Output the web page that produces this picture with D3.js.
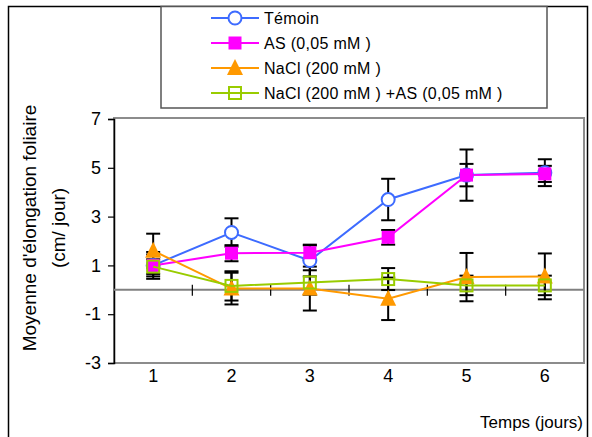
<!DOCTYPE html>
<html lang="fr">
	<head>
		<meta charset="utf-8">
		<title>Elongation foliaire</title>
		<script src="https://d3js.org/d3.v7.min.js"></script>
		<style type="text/css">
			body { margin: 0; background: #fff; }
			svg { display: block; }
			text { font-family: "Liberation Sans", Arial, sans-serif; fill: #000; }
		</style>
	</head>
	<body>
		<div id="chart"></div>
		<script type="text/javascript">

			// Données
			var days = [1, 2, 3, 4, 5, 6];
			var seriesNames = ["Témoin", "AS (0,05 mM )", "NaCl (200 mM )", "NaCl (200 mM ) +AS (0,05 mM )"];
			var temoin     = [1.0, 2.35, 1.2, 3.7, 4.7, 4.8];
			var temoinErr  = [0.45, 0.58, 0.65, 0.85, 1.05, 0.55];
			var as         = [1.0, 1.5, 1.52, 2.15, 4.7, 4.75];
			var asErr      = [0.55, 0.33, 0.3, 0.3, 0.46, 0.33];
			var nacl       = [1.6, 0.05, 0.05, -0.37, 0.52, 0.55];
			var naclErr    = [0.7, 0.65, 0.9, 0.87, 0.99, 0.94];
			var naclAs     = [0.95, 0.16, 0.3, 0.44, 0.18, 0.18];
			var naclAsErr  = [0.3, 0.6, 0.5, 0.45, 0.4, 0.4];
			var yTicks = [-3, -1, 1, 3, 5, 7];

			var colors = ["#3D6BFF", "#FF00FF", "#FF9900", "#99CC00"];
			var symbols = ["circle", "square", "triangle", "squareOpen"];

			var series = [
				{ name: seriesNames[0], values: temoin, err: temoinErr },
				{ name: seriesNames[1], values: as, err: asErr },
				{ name: seriesNames[2], values: nacl, err: naclErr },
				{ name: seriesNames[3], values: naclAs, err: naclAsErr }
			];
			series.forEach(function(s, i) {
				s.color = colors[i];
				s.symbol = symbols[i];
				s.points = days.map(function(d, j) {
					return { day: d, v: s.values[j], e: s.err[j] };
				});
			});

			var w = 592;
			var h = 437;
			var plot = { left: 114, right: 584, top: 119, bottom: 363 };

			var svg = d3.select("#chart")
						.append("svg")
						.attr("width", w)
						.attr("height", h);

			var xScale = d3.scaleBand()
							.domain(days)
							.range([plot.left, plot.right]);

			var yScale = d3.scaleLinear()
							.domain([-3, 7])
							.range([plot.bottom, plot.top]);

			function cx(d) { return xScale(d) + xScale.bandwidth() / 2; }

			// cadre extérieur
			svg.append("rect")
				.attr("x", 8.5).attr("y", 6.5)
				.attr("width", 579).attr("height", 450)
				.attr("fill", "none")
				.attr("stroke", "#000")
				.attr("stroke-width", 1.5);

			// zone de tracé (bordure grise)
			svg.append("rect")
				.attr("x", plot.left).attr("y", plot.top - 1)
				.attr("width", plot.right - plot.left)
				.attr("height", plot.bottom - plot.top + 1)
				.attr("fill", "#fff")
				.attr("stroke", "#8c8c8c")
				.attr("stroke-width", 2);

			// axe Y
			var yAxis = d3.axisLeft(yScale)
							.tickValues(yTicks)
							.tickSize(6)
							.tickPadding(7)
							.tickFormat(function(d) { return String(d); });

			var gy = svg.append("g")
						.attr("transform", "translate(" + plot.left + ",0)")
						.call(yAxis);
			gy.select(".domain").attr("stroke", "#000").attr("stroke-width", 1.5);
			gy.selectAll(".tick line").attr("stroke", "#000").attr("stroke-width", 1.2);
			gy.selectAll(".tick text")
				.attr("font-size", "18px")
				.attr("font-family", "Liberation Sans, Arial, sans-serif");

			// ligne du zéro avec graduations entre catégories
			svg.append("line")
				.attr("x1", plot.left).attr("x2", plot.right)
				.attr("y1", yScale(0)).attr("y2", yScale(0))
				.attr("stroke", "#808080")
				.attr("stroke-width", 2);

			svg.selectAll(".xtick")
				.data(days.slice(1))
				.enter()
				.append("line")
				.attr("class", "xtick")
				.attr("x1", function(d) { return xScale(d); })
				.attr("x2", function(d) { return xScale(d); })
				.attr("y1", yScale(0) - 5)
				.attr("y2", yScale(0) + 6)
				.attr("stroke", "#000")
				.attr("stroke-width", 1.2);

			// étiquettes X
			svg.selectAll(".xlabel")
				.data(days)
				.enter()
				.append("text")
				.attr("class", "xlabel")
				.attr("x", function(d) { return cx(d); })
				.attr("y", 382)
				.attr("text-anchor", "middle")
				.attr("font-size", "18px")
				.text(function(d) { return d; });

			svg.append("text")
				.attr("x", 583)
				.attr("y", 428)
				.attr("text-anchor", "end")
				.attr("font-size", "17px")
				.text("Temps (jours)");

			// titre axe Y
			var yTitle = svg.append("text")
							.attr("transform", "translate(36,228) rotate(-90)")
							.attr("text-anchor", "middle")
							.attr("font-size", "19px");
			yTitle.append("tspan").attr("x", 0).attr("y", 0).text("Moyenne d'élongation foliaire");
			yTitle.append("tspan").attr("x", 0).attr("y", 29).text("(cm/ jour)");

			// barres d'erreur
			var capW = 7;
			series.forEach(function(s) {
				var g = svg.append("g");
				g.selectAll("line.v")
					.data(s.points)
					.enter()
					.append("line")
					.attr("x1", function(d) { return cx(d.day); })
					.attr("x2", function(d) { return cx(d.day); })
					.attr("y1", function(d) { return yScale(d.v + d.e); })
					.attr("y2", function(d) { return yScale(d.v - d.e); })
					.attr("stroke", "#000")
					.attr("stroke-width", 2);
				[1, -1].forEach(function(sign) {
					g.selectAll("line.c" + sign)
						.data(s.points)
						.enter()
						.append("line")
						.attr("x1", function(d) { return cx(d.day) - capW; })
						.attr("x2", function(d) { return cx(d.day) + capW; })
						.attr("y1", function(d) { return yScale(d.v + sign * d.e); })
						.attr("y2", function(d) { return yScale(d.v + sign * d.e); })
						.attr("stroke", "#000")
						.attr("stroke-width", 2);
				});
			});

			// marqueurs
			function drawMarker(sel, s) {
				if (s.symbol === "circle") {
					sel.append("circle")
						.attr("r", 6.5)
						.attr("fill", "#fff")
						.attr("stroke", s.color)
						.attr("stroke-width", 2);
				} else if (s.symbol === "square") {
					sel.append("rect")
						.attr("x", -6.5).attr("y", -6.5)
						.attr("width", 13).attr("height", 13)
						.attr("fill", s.color);
				} else if (s.symbol === "triangle") {
					sel.append("path")
						.attr("d", "M0,-9 L8,7 L-8,7 Z")
						.attr("fill", s.color);
				} else {
					sel.append("rect")
						.attr("x", -6).attr("y", -6)
						.attr("width", 12).attr("height", 12)
						.attr("fill", "none")
						.attr("stroke", s.color)
						.attr("stroke-width", 2);
				}
			}

			var line = d3.line()
						.x(function(d) { return cx(d.day); })
						.y(function(d) { return yScale(d.v); });

			series.forEach(function(s) {
				svg.append("path")
					.datum(s.points)
					.attr("d", line)
					.attr("fill", "none")
					.attr("stroke", s.color)
					.attr("stroke-width", 2);

				svg.selectAll(null)
					.data(s.points)
					.enter()
					.append("g")
					.attr("transform", function(d) { return "translate(" + cx(d.day) + "," + yScale(d.v) + ")"; })
					.each(function() { drawMarker(d3.select(this), s); });
			});

			// légende
			svg.append("rect")
				.attr("x", 161).attr("y", 6.5)
				.attr("width", 386).attr("height", 101.5)
				.attr("fill", "#fff")
				.attr("stroke", "#555")
				.attr("stroke-width", 1.5);

			var legend = svg.selectAll(".legend")
							.data(series)
							.enter()
							.append("g")
							.attr("class", "legend")
							.attr("transform", function(d, i) { return "translate(0," + (18 + i * 25) + ")"; });

			legend.append("line")
				.attr("x1", 211).attr("x2", 259)
				.attr("y1", 0).attr("y2", 0)
				.attr("stroke", function(d) { return d.color; })
				.attr("stroke-width", 2);

			legend.append("g")
				.attr("transform", "translate(235,0)")
				.each(function(d) { drawMarker(d3.select(this), d); });

			legend.append("text")
				.attr("x", 264)
				.attr("y", 6)
				.attr("font-size", "16px")
				.attr("letter-spacing", "0.3px")
				.text(function(d) { return d.name; });

		</script>
	</body>
</html>
